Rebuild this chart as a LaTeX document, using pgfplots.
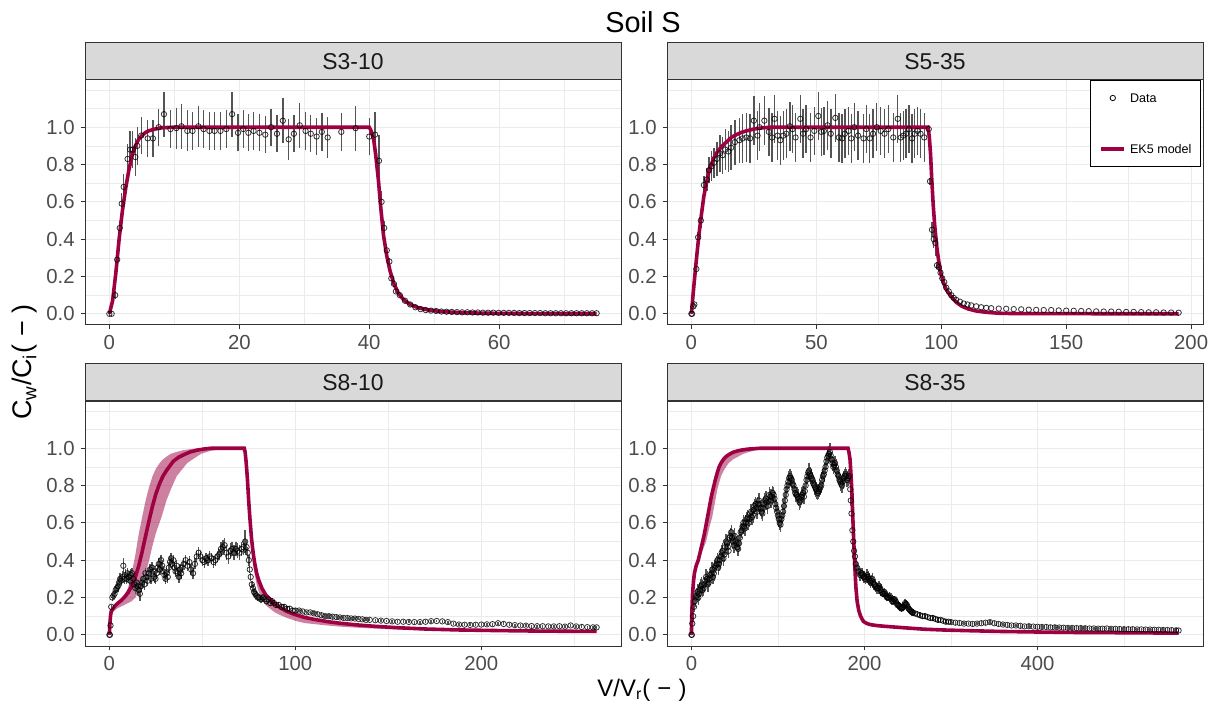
\documentclass[border=0pt]{standalone}
\usepackage{fontspec}
\setmainfont{Liberation Sans}
\usepackage{pgfplots}
\pgfplotsset{compat=1.18}
\definecolor{ek}{HTML}{9E0142}
\definecolor{g20}{gray}{0.2}
\definecolor{g30}{gray}{0.3}
\definecolor{g35}{gray}{0.33}
\definecolor{g85}{gray}{0.85}
\definecolor{g92}{gray}{0.92}
\pgfplotsset{
 facet/.style={
  scale only axis, width=268bp, height=122.5bp,
  ymin=-0.06, ymax=1.253,
  ytick={0,0.2,0.4,0.6,0.8,1}, minor ytick={0.1,0.3,0.5,0.7,0.9,1.1,1.2},
  yticklabel style={xshift=0.5bp, /pgf/number format/.cd, fixed, fixed zerofill, precision=1},
  grid=both, major grid style={g92, line width=0.6bp}, minor grid style={g92, line width=0.3bp},
  axis line style={g20, line width=0.5bp},
  tick style={g20, line width=0.5bp}, major tick length=2.2bp, minor tick length=0pt,
  tick align=outside, tick pos=left,
  ticklabel style={font=\fontsize{10.2}{11}\selectfont, text=g30},
  xticklabel style={yshift=0.5bp},
  /pgf/number format/assume math mode=true,
 },
 dat/.style={forget plot, only marks, mark=o, mark size=1.35bp, mark options={black, line width=0.4bp, opacity=0.8},
   error bars/y dir=both, error bars/y explicit, error bars/error mark=none,
   error bars/error bar style={draw=g35, line width=0.7bp}},
 mod/.style={ek, line width=1.8bp, forget plot},
 rib/.style={fill=ek, fill opacity=0.5, draw=none, forget plot},
 legmark/.style={legend image code/.code={\draw[##1, mark repeat=2, mark phase=2] plot coordinates {(0bp,0bp) (5.75bp,0bp) (11.5bp,0bp)};}},
 legline/.style={legend image code/.code={\draw[##1] (0bp,0bp) -- (11.5bp,0bp);}},
}
\begin{document}
\begin{tikzpicture}
\useasboundingbox (0,0) rectangle (607.5bp,354.5bp);
% ---------------- S3-10
\begin{axis}[facet, at={(42.5bp,192bp)}, anchor=south west,
  xmin=-3.75, xmax=78.75, xtick={0,20,40,60}, minor xtick={10,30,50,70}]
\addplot[dat] table[x index=0, y index=1, y error index=2, row sep=\\] {
0 0 0\\ 0.35 0 0\\ 0.9 0.10 0.02\\ 1.2 0.29 0.03\\ 1.6 0.46 0.04\\ 1.9 0.59 0.06\\ 2.2 0.68 0.07\\ 2.8 0.83 0.08\\ 3.2 0.88 0.1\\ 3.6 0.88 0.1\\ 4.0 0.84 0.1\\ 4.3 0.90 0.1\\ 4.9 0.955 0.1\\ 5.9 0.94 0.1\\ 6.7 0.94 0.1\\ 7.6 1.0 0.1\\ 8.4 1.07 0.12\\ 9.4 0.99 0.1\\ 10.3 0.995 0.11\\ 11.1 1.005 0.12\\ 12.0 0.98 0.11\\ 12.8 0.98 0.1\\ 13.7 1.005 0.11\\ 14.5 0.99 0.1\\ 15.4 0.98 0.1\\ 16.2 0.98 0.1\\ 17.1 0.98 0.1\\ 18.0 0.99 0.1\\ 18.9 1.07 0.12\\ 19.8 0.97 0.1\\ 20.6 0.99 0.1\\ 21.4 0.97 0.1\\ 22.2 0.98 0.1\\ 23.1 0.97 0.1\\ 24.0 0.96 0.1\\ 24.9 1.0 0.1\\ 25.8 0.965 0.1\\ 26.7 1.035 0.12\\ 27.6 0.935 0.11\\ 28.4 0.965 0.1\\ 29.3 1.01 0.12\\ 30.2 0.98 0.1\\ 31.0 0.965 0.1\\ 31.9 0.95 0.1\\ 32.7 0.975 0.1\\ 33.6 0.945 0.11\\ 35.7 0.975 0.1\\ 37.9 0.995 0.12\\ 40.0 0.95 0.1\\ 40.9 0.96 0.12\\ 41.5 0.82 0.14\\ 41.9 0.60 0.06\\ 42.3 0.46 0.04\\ 42.7 0.34 0.03\\ 43.1 0.28 0.02\\ 43.4 0.19 0.01\\ 43.8 0.16 0.01\\ 44.1 0.12 0.01\\ 44.7 0.10 0.01\\ 45.5 0.07 0.005\\ 46.3 0.05 0\\ 47.1 0.035 0\\ 47.9 0.025 0\\ 48.7 0.02 0\\ 49.5 0.017 0\\ 50.3 0.015 0\\ 51.1 0.012 0\\ 51.9 0.011 0\\ 52.7 0.01 0\\ 53.5 0.009 0\\ 54.3 0.008 0\\ 55.1 0.008 0\\ 55.9 0.007 0\\ 56.7 0.007 0\\ 57.5 0.006 0\\ 58.3 0.006 0\\ 59.1 0.006 0\\ 59.9 0.005 0\\ 60.7 0.005 0\\ 61.5 0.005 0\\ 62.3 0.005 0\\ 63.1 0.004 0\\ 63.9 0.004 0\\ 64.7 0.004 0\\ 65.5 0.004 0\\ 66.3 0.004 0\\ 67.1 0.003 0\\ 67.9 0.003 0\\ 68.7 0.003 0\\ 69.5 0.003 0\\ 70.3 0.003 0\\ 71.1 0.003 0\\ 71.9 0.003 0\\ 72.7 0.003 0\\ 73.5 0.003 0\\ 74.3 0.003 0\\ 75.0 0.003 0\\
};
\addplot[mod] coordinates {(0,0) (0.5,0.07) (1,0.22) (1.5,0.4) (2,0.55) (2.5,0.67) (3,0.77) (3.5,0.85) (4,0.9) (4.5,0.935) (5,0.955) (5.5,0.97) (6,0.98) (7,0.99) (8,0.997) (10,1) (40,1) (40.3,0.98) (40.7,0.93) (41,0.85) (41.4,0.72) (41.8,0.56) (42.2,0.42) (42.7,0.31) (43.2,0.23) (43.8,0.16) (44.5,0.11) (45.3,0.075) (46.3,0.05) (47.5,0.033) (49,0.021) (51,0.012) (54,0.006) (58,0.003) (65,0.001) (75,0)};
\end{axis}
% ---------------- S5-35
\begin{axis}[facet, at={(333.5bp,192bp)}, anchor=south west,
  xmin=-9.75, xmax=204.75, xtick={0,50,100,150,200}, minor xtick={25,75,125,175},
  legend style={at={(1,1)}, anchor=north east, xshift=-1bp, draw=black, line width=0.5bp,
    fill=white, font=\fontsize{6.3}{7}\selectfont, inner xsep=4.5bp, inner ysep=6.5bp,
    row sep=21bp, column sep=2bp, nodes={inner sep=0pt, text height=4.5bp, text depth=0pt}},
  legend cell align=left]
\addplot[dat] table[x index=0, y index=1, y error index=2, row sep=\\] {
0 0 0\\ 0.3 0 0\\ 0.8 0.04 0.01\\ 1.2 0.05 0.01\\ 2.0 0.24 0.02\\ 2.7 0.41 0.03\\ 3.8 0.50 0.04\\ 5.0 0.69 0.05\\ 6.2 0.72 0.06\\ 7.1 0.77 0.07\\ 8.0 0.79 0.08\\ 9.1 0.81 0.08\\ 10.2 0.83 0.09\\ 11.4 0.86 0.1\\ 12.5 0.85 0.1\\ 13.6 0.88 0.11\\ 14.8 0.87 0.11\\ 15.9 0.89 0.12\\ 17.4 0.92 0.12\\ 19.2 0.93 0.12\\ 20.5 0.94 0.13\\ 22 0.945 0.13\\ 23.5 0.94 0.13\\ 25 1.035 0.13\\ 26.5 0.955 0.13\\ 27.3 1.0 0.13\\ 29.2 1.035 0.13\\ 31 0.975 0.13\\ 32.3 0.945 0.13\\ 33.3 1.045 0.13\\ 34.5 0.955 0.13\\ 35.6 0.93 0.13\\ 36.8 0.955 0.13\\ 38 0.965 0.13\\ 39.4 1.005 0.13\\ 40.5 0.99 0.13\\ 41.7 0.945 0.13\\ 43.6 1.045 0.13\\ 44.7 0.965 0.13\\ 45.9 0.99 0.13\\ 47.7 0.945 0.13\\ 49.2 0.98 0.13\\ 50.8 1.06 0.13\\ 52 0.975 0.13\\ 53 0.98 0.13\\ 54.5 1.01 0.13\\ 55.8 0.965 0.13\\ 57.6 1.05 0.13\\ 59 0.945 0.13\\ 60.3 0.94 0.13\\ 61.4 0.965 0.13\\ 62.9 0.98 0.13\\ 64 0.94 0.13\\ 65.2 1.0 0.13\\ 66.7 0.955 0.13\\ 68.9 0.94 0.13\\ 70 0.99 0.13\\ 71.4 0.94 0.13\\ 72.7 0.965 0.13\\ 74.2 1.0 0.13\\ 75.8 0.98 0.13\\ 77.3 0.965 0.13\\ 78.8 0.99 0.13\\ 80.8 0.945 0.13\\ 82.6 1.045 0.13\\ 83.8 0.945 0.13\\ 84.8 0.955 0.13\\ 85.9 0.965 0.13\\ 87.1 0.99 0.13\\ 88.3 0.94 0.13\\ 89.4 0.965 0.13\\ 90.5 0.98 0.13\\ 91.7 0.965 0.13\\ 93.2 0.945 0.13\\ 95 0.99 0.02\\ 95.5 0.71 0.02\\ 96.3 0.45 0.04\\ 97 0.40 0.05\\ 97.6 0.38 0.07\\ 98.3 0.26 0.02\\ 99 0.25 0.02\\ 99.7 0.22 0.02\\ 100.4 0.19 0.01\\ 101.2 0.17 0.01\\ 102 0.14 0.01\\ 103 0.12 0.01\\ 104 0.1 0.01\\ 105 0.085 0\\ 106 0.075 0\\ 107.5 0.065 0\\ 109 0.055 0\\ 110.5 0.05 0\\ 112 0.045 0\\ 114 0.04 0\\ 116 0.035 0\\ 118 0.032 0\\ 120 0.03 0\\ 123 0.028 0\\ 126 0.027 0\\ 129 0.025 0\\ 132 0.024 0\\ 135 0.022 0\\ 138 0.021 0\\ 141 0.02 0\\ 144 0.02 0\\ 147 0.018 0\\ 150 0.017 0\\ 153 0.016 0\\ 156 0.015 0\\ 159 0.014 0\\ 162 0.013 0\\ 165 0.012 0\\ 168 0.012 0\\ 171 0.011 0\\ 174 0.01 0\\ 177 0.01 0\\ 180 0.009 0\\ 183 0.008 0\\ 186 0.008 0\\ 189 0.007 0\\ 192 0.007 0\\ 195 0.006 0\\
};
\addplot[mod] coordinates {(0,0) (1,0.15) (2,0.29) (3,0.42) (4,0.53) (5,0.63) (6,0.7) (7,0.76) (8,0.8) (9,0.835) (10,0.86) (12,0.895) (14,0.92) (16,0.945) (18,0.96) (20,0.972) (22,0.98) (25,0.99) (28,0.996) (32,1) (94.7,1) (95.2,0.95) (95.7,0.86) (96.2,0.72) (96.8,0.58) (97.4,0.47) (98.2,0.36) (98.9,0.29) (99.8,0.22) (100.8,0.17) (102,0.13) (103.8,0.095) (106,0.062) (108.3,0.04) (111,0.025) (114,0.015) (118,0.008) (123,0.003) (130,0.001) (195,0)};
\addlegendimage{legmark, only marks, mark=o, mark size=1.35bp, mark options={black, line width=0.4bp}}
\addlegendentry{Data}
\addlegendimage{legline, ek, line width=1.8bp}
\addlegendentry{EK5 model}
\end{axis}
% ---------------- S8-10
\begin{axis}[facet, at={(42.5bp,31.5bp)}, anchor=south west,
  xmin=-13.1, xmax=275.1, xtick={0,100,200}, minor xtick={50,150,250}]
\addplot[rib] coordinates {(0,0) (0.3,0.06) (0.6,0.1) (1,0.125) (2,0.14) (4,0.17) (6,0.19) (8,0.215) (10,0.25) (12,0.33) (14,0.43) (15.8,0.54) (17.6,0.63) (19.5,0.72) (21.3,0.79) (23.2,0.85) (25,0.89) (27,0.92) (28.8,0.94) (30.7,0.955) (33,0.97) (36.2,0.98) (40,0.99) (43.7,0.995) (48,1) (72.5,1) (73,0.98) (73.5,0.93) (74.2,0.84) (74.9,0.72) (75.6,0.62) (76.4,0.52) (77.3,0.44) (78.2,0.38) (79.2,0.335) (80.4,0.295) (82,0.255) (84,0.22) (86.4,0.195) (89,0.17) (92,0.15) (95.5,0.13) (99.4,0.115) (105,0.097) (110.6,0.085) (117,0.074) (123.6,0.065) (132,0.056) (142,0.048) (155,0.04) (170,0.033) (188,0.028) (207,0.024) (230,0.021) (262,0.019)
 (262,0.016) (230,0.018) (207,0.02) (188,0.022) (170,0.025) (151,0.03) (135,0.037) (123.6,0.044) (115,0.052) (105,0.063) (100,0.075) (95.7,0.09) (92,0.105) (89,0.12) (86.4,0.14) (84,0.16) (82,0.19) (80.4,0.23) (79.2,0.27) (78.2,0.32) (77.3,0.38) (76.4,0.46) (75.6,0.56) (74.9,0.67) (74.2,0.8) (73.5,0.9) (73,0.96) (72.5,0.99) (67.8,0.998) (63,0.997) (58.6,0.993) (54,0.985) (49.3,0.97) (45.5,0.945) (41.8,0.92) (39,0.885) (36.2,0.85) (33.5,0.79) (30.7,0.72) (28,0.63) (25,0.545) (23,0.47) (21.4,0.40) (19.5,0.33) (17.6,0.27) (15.8,0.23) (14,0.2) (12,0.18) (10,0.17) (8,0.16) (6,0.15) (4,0.14) (2,0.125) (1,0.115) (0.6,0.09) (0.3,0.05) (0,0)} \closedcycle;
\addplot[dat] table[x index=0, y index=1, y error index=2, row sep=\\] {
0 0 0\\ 0.3 0 0\\ 0.6 0.05 0.01\\ 1.0 0.15 0.01\\ 1.6 0.2 0.02\\ 2.2 0.21 0.02\\ 2.8 0.22 0.02\\ 3.4 0.24 0.02\\ 4.0 0.25 0.02\\ 4.6 0.26 0.03\\ 5.2 0.28 0.03\\ 5.8 0.3 0.03\\ 6.4 0.29 0.03\\ 7.0 0.31 0.03\\ 7.5 0.37 0.04\\ 8.0 0.3 0.03\\ 8.6 0.32 0.03\\ 9.2 0.3 0.03\\ 9.8 0.33 0.03\\ 10.4 0.31 0.03\\ 11.0 0.29 0.03\\ 11.6 0.32 0.03\\ 12.2 0.33 0.03\\ 12.8 0.3 0.03\\ 13.4 0.27 0.03\\ 14.0 0.25 0.03\\ 14.6 0.28 0.03\\ 15.2 0.26 0.03\\ 15.8 0.24 0.03\\ 16.4 0.22 0.04\\ 17.0 0.26 0.03\\ 17.6 0.28 0.03\\ 18.2 0.30 0.03\\ 18.8 0.27 0.03\\ 19.4 0.33 0.03\\ 20.0 0.31 0.03\\ 20.6 0.29 0.03\\ 21.2 0.33 0.03\\ 21.8 0.35 0.03\\ 22.4 0.3 0.03\\ 23 0.36 0.03\\ 23.6 0.34 0.03\\ 24.2 0.31 0.03\\ 24.8 0.3 0.03\\ 25.4 0.33 0.03\\ 26 0.36 0.03\\ 26.6 0.38 0.03\\ 27.2 0.35 0.03\\ 27.8 0.4 0.03\\ 28.4 0.37 0.03\\ 29 0.34 0.03\\ 29.6 0.32 0.03\\ 30.2 0.3 0.03\\ 30.8 0.33 0.03\\ 31.4 0.31 0.03\\ 32 0.36 0.03\\ 32.6 0.39 0.03\\ 33.2 0.41 0.03\\ 33.8 0.38 0.03\\ 34.4 0.4 0.03\\ 35 0.36 0.03\\ 35.6 0.34 0.03\\ 36.2 0.37 0.03\\ 36.8 0.33 0.03\\ 37.4 0.31 0.03\\ 38 0.35 0.03\\ 38.6 0.33 0.03\\ 39.2 0.36 0.03\\ 40 0.38 0.03\\ 41 0.40 0.03\\ 42 0.37 0.03\\ 43 0.39 0.03\\ 44 0.35 0.03\\ 45 0.33 0.03\\ 46 0.38 0.03\\ 47 0.42 0.03\\ 48 0.44 0.03\\ 49 0.42 0.03\\ 50 0.40 0.03\\ 51 0.39 0.03\\ 52 0.41 0.03\\ 53 0.4 0.03\\ 54 0.42 0.03\\ 55 0.41 0.03\\ 56 0.39 0.03\\ 57 0.4 0.03\\ 58 0.42 0.03\\ 59 0.43 0.03\\ 60 0.46 0.04\\ 61 0.47 0.04\\ 62 0.48 0.04\\ 63 0.44 0.04\\ 64 0.42 0.04\\ 65 0.45 0.04\\ 66 0.46 0.04\\ 67 0.44 0.04\\ 68 0.46 0.04\\ 69 0.45 0.04\\ 70 0.44 0.04\\ 71 0.46 0.04\\ 72 0.47 0.04\\ 73 0.5 0.06\\ 73.8 0.47 0.04\\ 74.4 0.44 0.03\\ 75 0.40 0.03\\ 75.5 0.35 0.02\\ 76 0.31 0.02\\ 76.6 0.27 0.02\\ 77.2 0.25 0.02\\ 77.8 0.23 0.02\\ 78.4 0.22 0.02\\ 79 0.21 0.02\\ 79.8 0.2 0.02\\ 80.6 0.2 0.02\\ 81.5 0.19 0.02\\ 82.5 0.2 0.02\\ 83.5 0.19 0.02\\ 84.5 0.18 0.02\\ 85.5 0.19 0.02\\ 86.5 0.17 0.015\\ 87.5 0.18 0.015\\ 88.5 0.17 0.015\\ 89.5 0.16 0.015\\ 91 0.16 0.015\\ 92.5 0.15 0.015\\ 94 0.15 0.015\\ 95.5 0.14 0.015\\ 97 0.14 0.015\\ 98.5 0.13 0.015\\ 100 0.13 0.015\\ 102 0.13 0.01\\ 104 0.125 0.01\\ 106 0.12 0.01\\ 108 0.12 0.01\\ 110 0.115 0.01\\ 112 0.11 0.01\\ 114 0.105 0.01\\ 116 0.1 0.01\\ 118 0.1 0.01\\ 120 0.097 0.01\\ 122 0.095 0.01\\ 124 0.093 0.01\\ 126 0.09 0.01\\ 128 0.09 0.01\\ 130 0.088 0.008\\ 132 0.087 0.008\\ 134 0.085 0.008\\ 136 0.083 0.008\\ 138 0.08 0.008\\ 140 0.08 0.008\\ 143 0.078 0.008\\ 146 0.076 0.008\\ 149 0.074 0.008\\ 152 0.072 0.008\\ 155 0.07 0.008\\ 158 0.07 0.008\\ 161 0.069 0.008\\ 164 0.068 0.008\\ 167 0.068 0.008\\ 170 0.07 0.008\\ 173 0.073 0.008\\ 176 0.074 0.008\\ 179 0.072 0.008\\ 182 0.068 0.008\\ 185 0.06 0.008\\ 188 0.055 0.008\\ 191 0.054 0.008\\ 194 0.053 0.008\\ 197 0.054 0.008\\ 200 0.055 0.008\\ 203 0.056 0.008\\ 206 0.057 0.008\\ 209 0.062 0.008\\ 212 0.058 0.008\\ 215 0.054 0.008\\ 218 0.052 0.008\\ 221 0.05 0.008\\ 224 0.049 0.008\\ 227 0.047 0.008\\ 230 0.046 0.008\\ 233 0.046 0.008\\ 236 0.045 0.008\\ 239 0.045 0.008\\ 242 0.046 0.008\\ 245 0.044 0.008\\ 248 0.05 0.008\\ 251 0.045 0.008\\ 254 0.042 0.008\\ 257 0.041 0.008\\ 260 0.04 0.008\\ 262 0.04 0.008\\
};
\addplot[mod] coordinates {(0,0) (0.3,0.06) (0.6,0.1) (1,0.125) (2,0.14) (3,0.155) (4.6,0.17) (6.5,0.185) (8.4,0.205) (10,0.225) (12,0.26) (14,0.31) (15.8,0.37) (17.5,0.44) (19.5,0.53) (21.3,0.61) (23.2,0.69) (25,0.755) (27,0.81) (28.8,0.85) (30.7,0.88) (32.5,0.905) (34.4,0.93) (37,0.95) (40,0.965) (43.5,0.98) (47.4,0.99) (51,0.996) (55,1) (72.5,1) (73,0.98) (73.5,0.93) (74.2,0.84) (74.9,0.72) (75.6,0.62) (76.4,0.52) (77.3,0.44) (78.2,0.38) (79.2,0.33) (80.4,0.29) (82,0.25) (84,0.215) (86.4,0.19) (89,0.165) (92,0.145) (95.5,0.125) (99.4,0.11) (105,0.093) (110.6,0.082) (117,0.071) (123.6,0.0625) (132,0.054) (142,0.046) (155,0.038) (170,0.031) (188,0.026) (207,0.023) (230,0.02) (262,0.018)};
\end{axis}
% ---------------- S8-35
\begin{axis}[facet, at={(333.5bp,31.5bp)}, anchor=south west,
  xmin=-28.2, xmax=591.2, xtick={0,200,400}, minor xtick={100,300,500}]
\addplot[rib] coordinates {(0,0) (0.5,0.12) (1.3,0.22) (2.5,0.29) (3.5,0.33) (5.5,0.375) (7.9,0.41) (10,0.45) (12,0.49) (14.5,0.545) (17,0.61) (19,0.66) (21,0.71) (23,0.76) (25,0.8) (27.6,0.845) (30,0.88) (34.2,0.93) (40,0.96) (45,0.975) (55,0.99) (65,0.997) (80,1) (181,1) (182,0.982) (183.3,0.944) (184.4,0.864) (185.5,0.764) (186.6,0.624) (187.7,0.494) (188.8,0.374) (190,0.264) (191.5,0.184) (193.4,0.134) (195.5,0.104) (198.7,0.076) (203,0.064) (207.5,0.058) (215,0.053) (225,0.049) (245,0.042) (269,0.034) (312.7,0.026) (356.6,0.021) (444,0.015) (563,0.011)
 (563,0.007) (444,0.01) (356.6,0.015) (312.7,0.02) (269,0.026) (245,0.034) (225,0.041) (207.5,0.05) (203,0.056) (198.7,0.068) (195.5,0.096) (193.4,0.126) (191.5,0.176) (190,0.256) (188.8,0.366) (187.7,0.486) (186.6,0.616) (185.5,0.756) (184.4,0.856) (183.3,0.936) (182,0.978) (181,0.998) (84.6,0.996) (75,0.99) (67,0.98) (60,0.97) (54,0.955) (48,0.94) (43,0.92) (38,0.885) (34.2,0.85) (30,0.78) (27.6,0.72) (24,0.63) (21,0.58) (17,0.5) (14.5,0.47) (12,0.44) (10,0.415) (7.9,0.385) (5.5,0.355) (3.5,0.32) (2.5,0.28) (1.3,0.21) (0.5,0.11) (0,0)} \closedcycle;
\addplot[dat] table[x index=0, y index=1, y error index=2, row sep=\\] {
0 0 0\\ 0.5 0 0\\ 2 0.1 0.03\\ 4 0.18 0.03\\ 6 0.21 0.04\\ 8 0.2 0.04\\ 10 0.24 0.04\\ 12 0.27 0.04\\ 14 0.25 0.04\\ 16 0.29 0.04\\ 18 0.3 0.04\\ 20 0.28 0.04\\ 22 0.32 0.04\\ 24 0.35 0.04\\ 26 0.33 0.04\\ 28 0.37 0.04\\ 30 0.4 0.04\\ 32 0.38 0.04\\ 34 0.42 0.04\\ 36 0.45 0.04\\ 38 0.43 0.04\\ 40 0.5 0.04\\ 42 0.47 0.04\\ 44 0.52 0.04\\ 46 0.55 0.04\\ 48 0.5 0.04\\ 50 0.53 0.04\\ 52 0.49 0.04\\ 54 0.46 0.04\\ 56 0.52 0.04\\ 58 0.56 0.04\\ 60 0.6 0.04\\ 62 0.57 0.04\\ 64 0.62 0.04\\ 66 0.6 0.04\\ 68 0.65 0.04\\ 70 0.63 0.04\\ 72 0.67 0.04\\ 74 0.7 0.04\\ 76 0.66 0.04\\ 78 0.72 0.04\\ 80 0.68 0.04\\ 82 0.65 0.04\\ 84 0.7 0.04\\ 86 0.73 0.04\\ 88 0.69 0.04\\ 90 0.75 0.04\\ 92 0.72 0.04\\ 94 0.76 0.04\\ 96 0.73 0.04\\ 98 0.68 0.04\\ 100 0.64 0.04\\ 102 0.6 0.04\\ 104 0.62 0.04\\ 106 0.66 0.04\\ 108 0.72 0.04\\ 110 0.78 0.04\\ 112 0.82 0.04\\ 114 0.85 0.04\\ 116 0.83 0.04\\ 118 0.8 0.04\\ 120 0.76 0.04\\ 122 0.75 0.04\\ 124 0.73 0.04\\ 126 0.72 0.04\\ 128 0.75 0.04\\ 130 0.74 0.04\\ 132 0.8 0.04\\ 134 0.85 0.04\\ 136 0.88 0.04\\ 138 0.85 0.04\\ 140 0.83 0.04\\ 142 0.8 0.04\\ 144 0.78 0.04\\ 146 0.76 0.04\\ 148 0.78 0.04\\ 150 0.8 0.04\\ 152 0.85 0.04\\ 154 0.88 0.04\\ 156 0.93 0.04\\ 158 0.96 0.04\\ 160 0.98 0.05\\ 162 0.94 0.04\\ 164 0.9 0.04\\ 166 0.92 0.04\\ 168 0.88 0.04\\ 170 0.85 0.04\\ 172 0.82 0.04\\ 174 0.8 0.04\\ 176 0.84 0.04\\ 178 0.86 0.04\\ 180 0.83 0.04\\ 182 0.85 0.04\\ 183.5 0.78 0.03\\ 185 0.65 0.03\\ 186 0.56 0.03\\ 187 0.5 0.03\\ 188 0.45 0.03\\ 189 0.42 0.03\\ 190 0.38 0.03\\ 191.5 0.36 0.03\\ 193 0.34 0.03\\ 195 0.32 0.03\\ 197 0.33 0.03\\ 199 0.31 0.03\\ 201 0.3 0.03\\ 203 0.32 0.03\\ 205 0.3 0.03\\ 207 0.28 0.03\\ 209 0.3 0.03\\ 211 0.27 0.03\\ 213 0.26 0.03\\ 215 0.25 0.03\\ 217 0.26 0.03\\ 219 0.24 0.03\\ 221 0.22 0.02\\ 223 0.23 0.02\\ 225 0.21 0.02\\ 227 0.2 0.02\\ 229 0.21 0.02\\ 231 0.19 0.02\\ 233 0.18 0.02\\ 235 0.19 0.02\\ 237 0.17 0.02\\ 239 0.16 0.02\\ 241 0.15 0.02\\ 243 0.14 0.02\\ 245 0.15 0.02\\ 247 0.17 0.02\\ 249 0.16 0.02\\ 251 0.14 0.02\\ 253 0.13 0.02\\ 255 0.12 0.02\\ 258 0.115 0.015\\ 261 0.11 0.015\\ 264 0.105 0.015\\ 267 0.1 0.015\\ 270 0.1 0.015\\ 273 0.095 0.015\\ 276 0.09 0.015\\ 279 0.09 0.015\\ 282 0.085 0.015\\ 285 0.08 0.015\\ 288 0.08 0.01\\ 291 0.075 0.01\\ 294 0.07 0.01\\ 297 0.07 0.01\\ 300 0.068 0.01\\ 305 0.065 0.01\\ 310 0.063 0.01\\ 315 0.06 0.01\\ 320 0.06 0.01\\ 325 0.058 0.01\\ 330 0.06 0.01\\ 335 0.062 0.01\\ 340 0.065 0.01\\ 345 0.068 0.01\\ 350 0.062 0.01\\ 355 0.058 0.01\\ 360 0.055 0.01\\ 365 0.053 0.01\\ 370 0.05 0.01\\ 375 0.05 0.01\\ 380 0.048 0.01\\ 385 0.045 0.01\\ 390 0.046 0.01\\ 395 0.044 0.01\\ 400 0.043 0.01\\ 405 0.042 0.01\\ 410 0.042 0.01\\ 415 0.04 0.01\\ 420 0.04 0.01\\ 425 0.039 0.01\\ 430 0.038 0.01\\ 435 0.037 0.01\\ 440 0.037 0.01\\ 445 0.036 0.01\\ 450 0.036 0.01\\ 455 0.035 0.01\\ 460 0.034 0.01\\ 465 0.034 0.01\\ 470 0.033 0.01\\ 475 0.033 0.01\\ 480 0.034 0.01\\ 485 0.032 0.01\\ 490 0.032 0.01\\ 495 0.031 0.01\\ 500 0.03 0.01\\ 505 0.03 0.01\\ 510 0.03 0.01\\ 515 0.029 0.01\\ 520 0.029 0.01\\ 525 0.028 0.01\\ 530 0.028 0.01\\ 535 0.027 0.01\\ 540 0.027 0.01\\ 545 0.026 0.01\\ 550 0.026 0.01\\ 555 0.025 0.01\\ 560 0.024 0.01\\ 563 0.023 0.01\\
1 0.06 0.03\\ 3 0.15 0.03\\ 5 0.2 0.04\\ 7 0.23 0.04\\ 9 0.22 0.04\\ 11 0.26 0.04\\ 13 0.24 0.04\\ 15 0.27 0.04\\ 17 0.31 0.04\\ 19 0.27 0.04\\ 21 0.3 0.04\\ 23 0.33 0.04\\ 25 0.31 0.04\\ 27 0.36 0.04\\ 29 0.38 0.04\\ 31 0.36 0.04\\ 33 0.4 0.04\\ 35 0.44 0.04\\ 37 0.41 0.04\\ 39 0.47 0.04\\ 41 0.49 0.04\\ 43 0.45 0.04\\ 45 0.53 0.04\\ 47 0.52 0.04\\ 49 0.48 0.04\\ 51 0.5 0.04\\ 53 0.47 0.04\\ 55 0.49 0.04\\ 57 0.55 0.04\\ 59 0.58 0.04\\ 61 0.58 0.04\\ 63 0.6 0.04\\ 65 0.63 0.04\\ 67 0.62 0.04\\ 69 0.66 0.04\\ 71 0.64 0.04\\ 73 0.69 0.04\\ 75 0.68 0.04\\ 77 0.7 0.04\\ 79 0.7 0.04\\ 81 0.66 0.04\\ 83 0.68 0.04\\ 85 0.72 0.04\\ 87 0.71 0.04\\ 89 0.72 0.04\\ 91 0.74 0.04\\ 93 0.74 0.04\\ 95 0.75 0.04\\ 97 0.7 0.04\\ 99 0.66 0.04\\ 101 0.62 0.04\\ 103 0.59 0.04\\ 105 0.64 0.04\\ 107 0.69 0.04\\ 109 0.75 0.04\\ 111 0.8 0.04\\ 113 0.84 0.04\\ 115 0.84 0.04\\ 117 0.81 0.04\\ 119 0.78 0.04\\ 121 0.75 0.04\\ 123 0.74 0.04\\ 125 0.71 0.04\\ 127 0.74 0.04\\ 129 0.76 0.04\\ 131 0.77 0.04\\ 133 0.83 0.04\\ 135 0.87 0.04\\ 137 0.86 0.04\\ 139 0.84 0.04\\ 141 0.81 0.04\\ 143 0.79 0.04\\ 145 0.77 0.04\\ 147 0.77 0.04\\ 149 0.79 0.04\\ 151 0.83 0.04\\ 153 0.86 0.04\\ 155 0.9 0.04\\ 157 0.95 0.04\\ 159 0.97 0.04\\ 161 0.96 0.04\\ 163 0.92 0.04\\ 165 0.91 0.04\\ 167 0.9 0.04\\ 169 0.86 0.04\\ 171 0.83 0.04\\ 173 0.81 0.04\\ 175 0.82 0.04\\ 177 0.85 0.04\\ 179 0.85 0.04\\ 181 0.84 0.04\\ 184.2 0.72 0.03\\ 196 0.33 0.03\\ 198 0.32 0.03\\ 200 0.31 0.03\\ 202 0.31 0.03\\ 204 0.31 0.03\\ 206 0.29 0.03\\ 208 0.29 0.03\\ 210 0.28 0.03\\ 212 0.27 0.03\\ 214 0.25 0.03\\ 216 0.25 0.03\\ 218 0.25 0.03\\ 220 0.23 0.02\\ 222 0.22 0.02\\ 224 0.22 0.02\\ 226 0.2 0.02\\ 228 0.2 0.02\\ 230 0.2 0.02\\ 232 0.18 0.02\\ 234 0.19 0.02\\ 236 0.18 0.02\\ 238 0.16 0.02\\ 240 0.155 0.02\\ 242 0.145 0.02\\ 244 0.145 0.02\\ 246 0.16 0.02\\ 248 0.165 0.02\\ 250 0.15 0.02\\ 252 0.135 0.02\\ 254 0.125 0.02\\ 256 0.12 0.02\\
};
\addplot[mod] coordinates {(0,0) (0.5,0.12) (1.3,0.22) (2.5,0.29) (3.5,0.33) (5.5,0.37) (7.9,0.4) (10,0.44) (12,0.48) (14.5,0.53) (17,0.59) (19,0.64) (21,0.69) (23,0.74) (25,0.78) (27.6,0.83) (30,0.87) (32,0.9) (34.2,0.92) (37,0.94) (40,0.955) (43,0.965) (48,0.978) (53,0.985) (58,0.99) (65,0.995) (80,1) (181,1) (182,0.98) (183.3,0.94) (184.4,0.86) (185.5,0.76) (186.6,0.62) (187.7,0.49) (188.8,0.37) (190,0.26) (191.5,0.18) (193.4,0.13) (195.5,0.1) (198.7,0.072) (203,0.06) (207.5,0.054) (215,0.049) (225,0.045) (245,0.038) (269,0.03) (290,0.026) (312.7,0.023) (356.6,0.018) (400,0.015) (444,0.0125) (500,0.011) (563,0.009)};
\end{axis}
% strips
\begin{scope}[font=\fontsize{11.5}{13}\selectfont, text=black!90]
\draw[fill=g85, draw=g20, line width=0.5bp] (42.5bp,314.5bp) rectangle (310.5bp,333.25bp);
\node at (176.5bp,323.9bp) {S3-10};
\draw[fill=g85, draw=g20, line width=0.5bp] (333.5bp,314.5bp) rectangle (601.5bp,333.25bp);
\node at (467.5bp,323.9bp) {S5-35};
\draw[fill=g85, draw=g20, line width=0.5bp] (42.5bp,154bp) rectangle (310.5bp,172.75bp);
\node at (176.5bp,163.4bp) {S8-10};
\draw[fill=g85, draw=g20, line width=0.5bp] (333.5bp,154bp) rectangle (601.5bp,172.75bp);
\node at (467.5bp,163.4bp) {S8-35};
\end{scope}
\node at (321.5bp,343.5bp) {\fontsize{14.5}{16}\selectfont Soil S};
\node[anchor=base] at (321bp,6.5bp) {\fontsize{12}{14}\selectfont V/V\textsubscript{r}(\hspace{0.3em}−\hspace{0.3em})};
\node[rotate=90] at (12.5bp,173.5bp) {\fontsize{13.5}{15}\selectfont C\textsubscript{w}/C\textsubscript{i}(\hspace{0.3em}−\hspace{0.3em})};
\end{tikzpicture}
\end{document}
